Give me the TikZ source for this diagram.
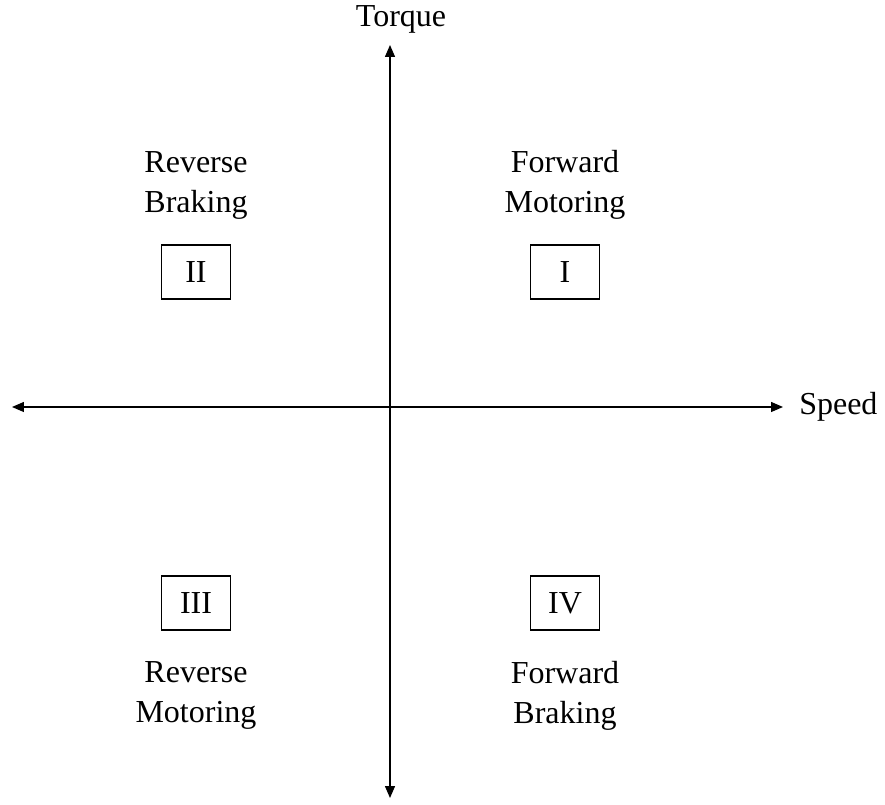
\documentclass[tikz,border=0pt]{standalone}
\usepackage{fontspec}
\setmainfont{Liberation Serif}
\usetikzlibrary{arrows.meta,positioning}

\begin{document}
\begin{tikzpicture}[x=0.75pt, y=0.75pt, >={Triangle[length=9pt,width=7.5pt]},
        font=\fontsize{24}{30}\selectfont,
        quadrant/.style={draw, line width=0.8pt, minimum width=51.75pt, minimum height=40.5pt, inner sep=0pt},
        mode/.style={align=center, inner sep=0pt}]
        \useasboundingbox (-390,-398) rectangle (495,407);

        % Achsen
        \coordinate (links) at (-378,0);
        \coordinate (rechts) at (393,0);
        \coordinate (oben) at (0,362);
        \coordinate (unten) at (0,-391);
        \draw[line width=1pt,<->] (links) -- (rechts);
        \draw[line width=1pt,<->] (unten) -- (oben);
        \node[anchor=base] (torque) at (11,380) {Torque};
        \node[anchor=base west, inner sep=0pt] (speed) at (409,-8) {Speed};

        % Quadranten
        \node[quadrant] (qI) at (175,135) {I};
        \node[quadrant] (qII) at (-194,135) {II};
        \node[quadrant] (qIII) at (-194,-196) {III};
        \node[quadrant] (qIV) at (175,-196) {IV};

        % Beschriftungen
        \node[mode, above=18.75pt of qI] (fwdmot) {Forward\\Motoring};
        \node[mode, above=18.75pt of qII] (revbrk) {Reverse\\Braking};
        \node[mode, below=23pt of qIII] (revmot) {Reverse\\Motoring};
        \node[mode, below=23pt of qIV] (fwdbrk) {Forward\\Braking};
    \end{tikzpicture}
\end{document}
